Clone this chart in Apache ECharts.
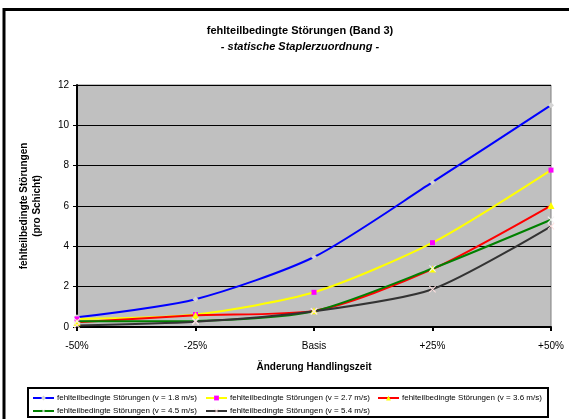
<!DOCTYPE html>
<html><head><meta charset="utf-8">
<script src="https://cdn.jsdelivr.net/npm/echarts@6/dist/echarts.min.js"></script>
<style>html,body{margin:0;padding:0;background:#fff}#c{width:569px;height:419px}</style>
</head><body><div id="c"></div>
<script>
var categories = ['-50%', '-25%', 'Basis', '+25%', '+50%'];
var seriesNames = [
  'fehlteilbedingte Störungen (v = 1.8 m/s)',
  'fehlteilbedingte Störungen (v = 2.7 m/s)',
  'fehlteilbedingte Störungen (v = 3.6 m/s)',
  'fehlteilbedingte Störungen (v = 4.5 m/s)',
  'fehlteilbedingte Störungen (v = 5.4 m/s)'
];
var v18 = [0.48, 1.38, 3.47, 7.18, 11.0];
var v27 = [0.4, 0.62, 1.72, 4.18, 7.78];
var v36 = [0.23, 0.58, 0.8, 2.87, 6.02];
var v45 = [0.28, 0.3, 0.78, 2.9, 5.32];
var v54 = [0.08, 0.26, 0.78, 1.87, 4.99];
var yTicks = [0, 2, 4, 6, 8, 10, 12];

var FONT = '"Liberation Sans", Arial, sans-serif';
var XPATH = 'path://M1,0L5,4L9,0L10,1L6,5L10,9L9,10L5,6L1,10L0,9L4,5L0,1Z';

function mk(name, data, lineColor, symbol, symColor, symSize) {
  return {
    name: name, type: 'line', data: data, smooth: 0.25,
    lineStyle: {color: lineColor, width: 2},
    itemStyle: {color: symColor, borderWidth: 0},
    symbol: symbol, symbolSize: symSize, showSymbol: true,
    emphasis: {disabled: true}, z: 3
  };
}
function lg(name, left, top) {
  return {
    data: [name], left: left, top: top, padding: 0, itemWidth: 21, itemHeight: 6,
    itemGap: 0, textStyle: {fontFamily: FONT, fontSize: 8, color: '#000', padding: [0, 0, 0, -2]},
    selectedMode: false
  };
}
var chart = echarts.init(document.getElementById('c'));
chart.setOption({
  animation: false,
  backgroundColor: '#fff',
  textStyle: {fontFamily: FONT},
  grid: {left: 77, right: 18, top: 85, bottom: 92, show: true, backgroundColor: '#C0C0C0', borderColor: '#808080', borderWidth: 1},
  xAxis: {
    type: 'category', data: categories, boundaryGap: false,
    axisLine: {lineStyle: {color: '#000', width: 2}},
    axisTick: {show: true, inside: false, length: 4, alignWithLabel: true, lineStyle: {color: '#000', width: 2}},
    axisLabel: {fontFamily: FONT, fontSize: 10, color: '#000', margin: 14},
    splitLine: {show: false}
  },
  yAxis: {
    type: 'value', min: yTicks[0], max: yTicks[yTicks.length - 1], interval: 2,
    axisLine: {show: true, lineStyle: {color: '#000', width: 2}},
    axisTick: {show: true, length: 4, lineStyle: {color: '#000', width: 1}},
    axisLabel: {fontFamily: FONT, fontSize: 10, color: '#000', margin: 8},
    splitLine: {show: true, lineStyle: {color: '#000', width: 1}}
  },
  legend: [
    lg(seriesNames[0], 32, 394),
    lg(seriesNames[1], 205, 394),
    lg(seriesNames[2], 377, 394),
    lg(seriesNames[3], 32, 407),
    lg(seriesNames[4], 205, 407)
  ],
  graphic: [
    {type: 'polyline', shape: {points: [[4, 430], [4, 9.5], [580, 9.5]]}, style: {stroke: '#000', lineWidth: 3, fill: null}, z: 100},
    {type: 'rect', shape: {x: 28, y: 388, width: 520, height: 29}, style: {stroke: '#000', lineWidth: 2, fill: null}, z: 100},
    {type: 'text', x: 300, y: 31, style: {text: 'fehlteilbedingte Störungen (Band 3)', font: 'bold 11px ' + FONT, fill: '#000', align: 'center', verticalAlign: 'middle'}},
    {type: 'text', x: 300, y: 47, style: {text: '- statische Staplerzuordnung -', font: 'italic bold 11px ' + FONT, fill: '#000', align: 'center', verticalAlign: 'middle'}},
    {type: 'text', x: 314, y: 367, style: {text: 'Änderung Handlingszeit', font: 'bold 10px ' + FONT, fill: '#000', align: 'center', verticalAlign: 'middle'}},
    {type: 'text', x: 24, y: 206, rotation: Math.PI / 2, style: {text: 'fehlteilbedingte Störungen', font: 'bold 10px ' + FONT, fill: '#000', align: 'center', verticalAlign: 'middle'}},
    {type: 'text', x: 37, y: 206, rotation: Math.PI / 2, style: {text: '(pro Schicht)', font: 'bold 10px ' + FONT, fill: '#000', align: 'center', verticalAlign: 'middle'}}
  ],
  series: [
    mk(seriesNames[0], v18, '#0000FF', 'diamond', '#D4D4D4', 6),
    mk(seriesNames[1], v27, '#FFFF00', 'rect', '#FF00FF', 5),
    mk(seriesNames[2], v36, '#FF0000', 'triangle', '#FFFF00', 7),
    mk(seriesNames[3], v45, '#008000', XPATH, '#F4F4F4', 7),
    mk(seriesNames[4], v54, '#333333', XPATH, '#FFE0E0', 7)
  ]
});
</script></body></html>
